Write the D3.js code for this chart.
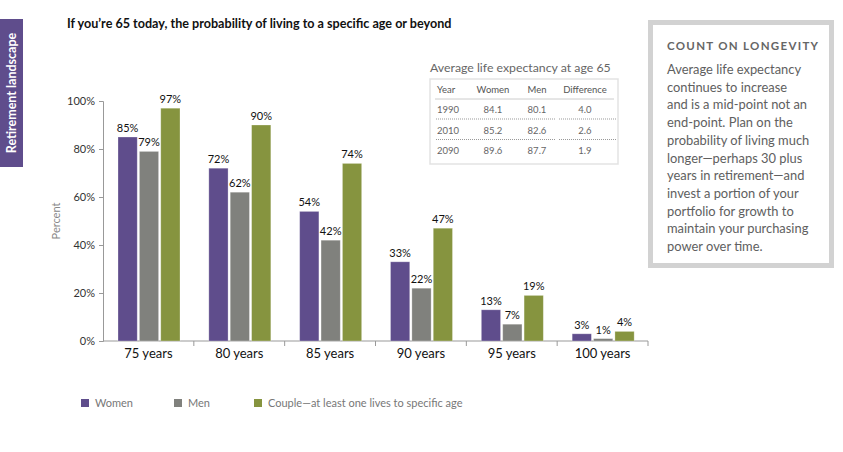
<!DOCTYPE html>
<html>
<head>
<meta charset="utf-8">
<script src="https://cdn.jsdelivr.net/npm/d3@7"></script>
<style>
  body { margin: 0; background: #fff; }
  text { font-family: Lato, "Open Sans", sans-serif; }
</style>
</head>
<body>
<svg id="chart" width="843" height="452"></svg>
<script>
// data
var ages = ['75 years', '80 years', '85 years', '90 years', '95 years', '100 years'];
var series = ['Women', 'Men', 'Couple—at least one lives to specific age'];
var women = [85, 72, 54, 33, 13, 3];
var men = [79, 62, 42, 22, 7, 1];
var couple = [97, 90, 74, 47, 19, 4];
var yTicks = [0, 20, 40, 60, 80, 100];

var tableHead = ['Year', 'Women', 'Men', 'Difference'];
var tableRows = [
  ['1990', '84.1', '80.1', '4.0'],
  ['2010', '85.2', '82.6', '2.6'],
  ['2090', '89.6', '87.7', '1.9']
];
var calloutLines = [
  'Average life expectancy',
  'continues to increase',
  'and is a mid-point not an',
  'end-point. Plan on the',
  'probability of living much',
  'longer—perhaps 30 plus',
  'years in retirement—and',
  'invest a portion of your',
  'portfolio for growth to',
  'maintain your purchasing',
  'power over time.'
];

var colors = ['#5f4d8c', '#80817d', '#86943f'];
var values = [women, men, couple];

var svg = d3.select('#chart');

// side tab
svg.append('rect').attr('x', 0).attr('y', 19).attr('width', 23).attr('height', 148).attr('fill', '#5f4d8c');
svg.append('text').attr('transform', 'translate(16,93) rotate(-90)')
  .attr('text-anchor', 'middle').attr('fill', '#fff').attr('font-weight', 'bold')
  .attr('font-size', 12.5).text('Retirement landscape');

// title
svg.append('text').attr('x', 67).attr('y', 28).attr('font-weight', 'bold').attr('font-size', 12.6)
  .attr('fill', '#111').text('If you\u2019re 65 today, the probability of living to a specific age or beyond');

// scales
var x0 = d3.scaleBand().domain(ages).range([103, 648]);
var x1 = d3.scaleBand().domain(series).range([15, 77]).paddingInner(0.1);
var y = d3.scaleLinear().domain([0, 100]).range([341, 101]);

// y axis
var yAxis = svg.append('g').attr('transform', 'translate(103,0)')
  .call(d3.axisLeft(y).tickValues(yTicks).tickSize(4).tickPadding(4).tickFormat(function(d){ return d + '%'; }));
yAxis.select('.domain').attr('stroke', '#999');
yAxis.selectAll('.tick line').attr('stroke', '#999');
yAxis.selectAll('.tick text').attr('font-size', 11).attr('fill', '#333').style('font-family', 'Lato, sans-serif');

svg.append('text').attr('transform', 'translate(60,221) rotate(-90)')
  .attr('text-anchor', 'middle').attr('font-size', 11).attr('fill', '#888').text('Percent');

// x axis
var xAxisG = svg.append('g').attr('transform', 'translate(0,341)');
xAxisG.append('line').attr('x1', 103).attr('x2', 648).attr('stroke', '#999');
xAxisG.selectAll('line.tk').data(ages).enter().append('line').attr('class', 'tk')
  .attr('x1', function(d){ return x0(d) + x0.bandwidth(); })
  .attr('x2', function(d){ return x0(d) + x0.bandwidth(); })
  .attr('y1', 0).attr('y2', 5).attr('stroke', '#999');
xAxisG.selectAll('text').data(ages).enter().append('text')
  .attr('x', function(d){ return x0(d) + x0.bandwidth() / 2; })
  .attr('y', 17).attr('text-anchor', 'middle').attr('font-size', 13).attr('fill', '#111')
  .text(function(d){ return d; });

// bars
var groups = svg.selectAll('g.grp').data(ages).enter().append('g').attr('class', 'grp')
  .attr('transform', function(d){ return 'translate(' + x0(d) + ',0)'; });

groups.each(function(age, i) {
  var g = d3.select(this);
  series.forEach(function(s, j) {
    var v = values[j][i];
    g.append('rect').attr('x', x1(s)).attr('width', x1.bandwidth())
      .attr('y', y(v)).attr('height', y(0) - y(v))
      .attr('fill', colors[j]).attr('stroke', '#fff').attr('stroke-opacity', 0.35).attr('stroke-width', 0.8);
    g.append('text').attr('x', x1(s) + x1.bandwidth() / 2).attr('y', y(v) - 5)
      .attr('text-anchor', 'middle').attr('font-size', 11).attr('fill', '#111').text(v + '%');
  });
});

// legend
var legX = [81, 174, 254];
series.forEach(function(s, j) {
  svg.append('rect').attr('x', legX[j]).attr('y', 399).attr('width', 8).attr('height', 8).attr('fill', colors[j]);
  svg.append('text').attr('x', legX[j] + 14).attr('y', 407).attr('font-size', 11).attr('fill', '#777').text(s);
});

// inset table
svg.append('text').attr('x', 430).attr('y', 72).attr('font-size', 12.3).attr('fill', '#666')
  .text('Average life expectancy at age 65');
svg.append('rect').attr('x', 430).attr('y', 79).attr('width', 188).attr('height', 85)
  .attr('fill', '#fff').attr('stroke', '#e3e3e3').attr('stroke-width', 1.5);
var colX = [437, 493, 537, 585];
var colAnchor = ['start', 'middle', 'middle', 'middle'];
tableHead.forEach(function(h, c) {
  svg.append('text').attr('x', colX[c]).attr('y', 93).attr('text-anchor', colAnchor[c])
    .attr('font-size', 9.5).attr('fill', '#555').text(h);
});
svg.append('line').attr('x1', 435).attr('x2', 614).attr('y1', 99).attr('y2', 99).attr('stroke', '#ccc');
tableRows.forEach(function(r, k) {
  var ry = 113 + k * 20.5;
  r.forEach(function(v, c) {
    svg.append('text').attr('x', colX[c]).attr('y', ry).attr('text-anchor', colAnchor[c])
      .attr('font-size', 9.5).attr('fill', '#666').text(v);
  });
  if (k < tableRows.length - 1) {
    [[436, 555], [559, 616]].forEach(function(seg) {
      svg.append('line').attr('x1', seg[0]).attr('x2', seg[1]).attr('y1', ry + 6).attr('y2', ry + 6)
        .attr('stroke', '#999').attr('stroke-dasharray', '1,1');
    });
  }
});

// callout box
svg.append('rect').attr('x', 650.5).attr('y', 22.5).attr('width', 181).attr('height', 243)
  .attr('fill', '#fff').attr('stroke', '#d2d2d2').attr('stroke-width', 5);
svg.append('text').attr('x', 667).attr('y', 50).attr('font-size', 11.5).attr('font-weight', 'bold')
  .attr('letter-spacing', 1.3).attr('fill', '#666').text('COUNT ON LONGEVITY');
svg.append('g').selectAll('text').data(calloutLines).enter().append('text')
  .attr('x', 667).attr('y', function(d, i){ return 74 + i * 17.7; })
  .attr('font-size', 12.9).attr('fill', '#606060').text(function(d){ return d; });
</script>
</body>
</html>
